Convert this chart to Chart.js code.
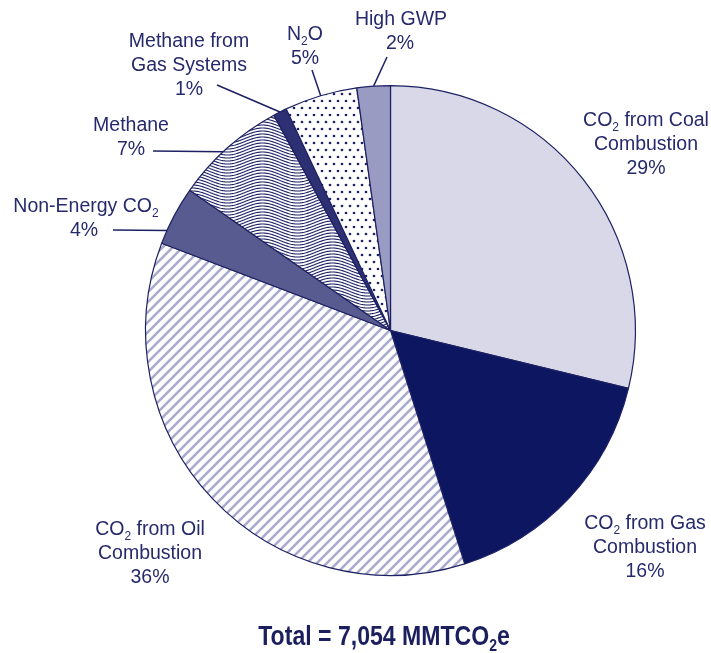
<!DOCTYPE html>
<html>
<head>
<meta charset="utf-8">
<script src="https://cdn.jsdelivr.net/npm/chart.js@4.4.1/dist/chart.umd.min.js"></script>
<style>
  body { margin: 0; background: #fff; }
  canvas { display: block; }
</style>
</head>
<body>
<canvas id="emisiones" width="711" height="653"></canvas>
<script>
// Datos (porcentajes)
const categories = ['CO2 from Coal Combustion', 'CO2 from Gas Combustion', 'CO2 from Oil Combustion',
                    'Non-Energy CO2', 'Methane', 'Methane from Gas Systems', 'N2O', 'High GWP'];
const shares = [28.8, 16.3, 35.7, 3.9, 7.4, 0.9, 4.8, 2.2];
const totalText = 'Total = 7,054 MMTCO_2e';

const navy = '#1d2163';
const textColor = '#262a6c';

// Etiquetas: lineas (con _2 = subindice), centro x, primera linea base y, linea guia
const labelLayout = [
    { lines: ['CO_2 from Coal', 'Combustion'], x: 646, y: 126 },
    { lines: ['CO_2 from Gas', 'Combustion'], x: 645, y: 529 },
    { lines: ['CO_2 from Oil', 'Combustion'], x: 150, y: 535 },
    { lines: ['Non-Energy CO_2'], x: 86, y: 212, pctX: 84, lead: [113, 230, 0.23] },
    { lines: ['Methane'], x: 131, y: 131, lead: [153, 151, 0.45] },
    { lines: ['Methane from', 'Gas Systems'], x: 189, y: 47, lead: [217, 85, 0.5] },
    { lines: ['N_2O'], x: 305, y: 40, lead: [312, 70, 0.5] },
    { lines: ['High GWP'], x: 401, y: 25, pctX: 400, lead: [387, 57, 0.5] }
];

function makePattern(w, h, draw) {
    const c = document.createElement('canvas');
    c.width = w; c.height = h;
    const g = c.getContext('2d');
    g.fillStyle = '#ffffff';
    g.fillRect(0, 0, w, h);
    draw(g);
    return document.getElementById('emisiones').getContext('2d').createPattern(c, 'repeat');
}

// rayado diagonal (petroleo)
const hatch = makePattern(10, 10, function(g) {
    g.strokeStyle = '#a9abcd';
    g.lineWidth = 2.6;
    [[-10, 10, 10, -10], [0, 10, 10, 0], [0, 20, 20, 0]].forEach(function(s) {
        g.beginPath(); g.moveTo(s[0], s[1]); g.lineTo(s[2], s[3]); g.stroke();
    });
});

// lineas onduladas (metano)
const waves = makePattern(70, 30, function(g) {
    g.strokeStyle = navy;
    g.lineWidth = 1.1;
    for (let k = -3; k < 14; k++) {
        g.beginPath();
        for (let x = 0; x <= 70; x++) {
            const y = k * 3 + 0.5 + 4.5 * Math.sin(2 * Math.PI * x / 70);
            if (x === 0) g.moveTo(x, y); else g.lineTo(x, y);
        }
        g.stroke();
    }
});

// puntos (N2O)
const dots = makePattern(8, 14, function(g) {
    g.fillStyle = navy;
    [[2, 3], [6, 10]].forEach(function(d) {
        g.beginPath(); g.arc(d[0], d[1], 1.35, 0, Math.PI * 2); g.fill();
    });
});

const fills = ['#d8d8e8', '#0d1660', hatch, '#585b8f', waves, '#2d3174', dots, '#9a9bc3'];

const bodyFont = '19.5px "Liberation Sans", Arial, sans-serif';
const subFont = '12px "Liberation Sans", Arial, sans-serif';

function drawRich(ctx, str, cx, y, font, sfont, subDrop) {
    const parts = str.split(/_(\d)/);
    let w = 0;
    parts.forEach(function(p, i) {
        ctx.font = (i % 2) ? sfont : font;
        w += ctx.measureText(p).width;
    });
    let x = cx - w / 2;
    ctx.textAlign = 'left';
    ctx.textBaseline = 'alphabetic';
    parts.forEach(function(p, i) {
        ctx.font = (i % 2) ? sfont : font;
        ctx.fillText(p, x, y + ((i % 2) ? subDrop : 0));
        x += ctx.measureText(p).width;
    });
    return w;
}

const labelsPlugin = {
    id: 'etiquetas',
    afterDraw: function(chart) {
        const ctx = chart.ctx;
        const arcs = chart.getDatasetMeta(0).data;
        ctx.save();
        ctx.fillStyle = textColor;
        labelLayout.forEach(function(lab, i) {
            let y = lab.y;
            lab.lines.forEach(function(line) {
                drawRich(ctx, line, lab.x, y, bodyFont, subFont, 4.5);
                y += 24;
            });
            ctx.font = bodyFont;
            ctx.textAlign = 'center';
            ctx.fillText(Math.round(shares[i]) + '%', lab.pctX || lab.x, y);

            if (lab.lead) {
                const p = arcs[i].getProps(['x', 'y', 'startAngle', 'endAngle', 'outerRadius']);
                const a = p.startAngle + (p.endAngle - p.startAngle) * lab.lead[2];
                ctx.strokeStyle = navy;
                ctx.lineWidth = 1.5;
                ctx.beginPath();
                ctx.moveTo(lab.lead[0], lab.lead[1]);
                ctx.lineTo(p.x + Math.cos(a) * p.outerRadius, p.y + Math.sin(a) * p.outerRadius);
                ctx.stroke();
            }
        });

        // total
        const tFont = 'bold 28px "Liberation Sans Narrow", "Liberation Sans", Arial, sans-serif';
        const tSub = 'bold 17px "Liberation Sans Narrow", "Liberation Sans", Arial, sans-serif';
        ctx.font = tFont;
        const raw = ctx.measureText('Total = 7,054 MMTCO').width + ctx.measureText('e').width + 10;
        const sx = Math.min(1, 252 / raw);
        ctx.translate(384, 645);
        ctx.scale(sx, 1);
        ctx.fillStyle = '#1b1f5e';
        drawRich(ctx, totalText, 0, 0, tFont, tSub, 6);
        ctx.restore();
    }
};

const ctx = document.getElementById('emisiones');
const chartEmisiones = new Chart(ctx, {
    type: 'pie',
    data: {
        labels: categories,
        datasets: [{
            data: shares,
            backgroundColor: fills,
            borderColor: navy,
            borderWidth: 1.2
        }]
    },
    options: {
        responsive: false,
        animation: false,
        layout: {
            padding: { left: 145, right: 75, top: 85, bottom: 77 }
        },
        plugins: {
            legend: { display: false },
            tooltip: { enabled: false }
        }
    },
    plugins: [labelsPlugin]
});
</script>
</body>
</html>
